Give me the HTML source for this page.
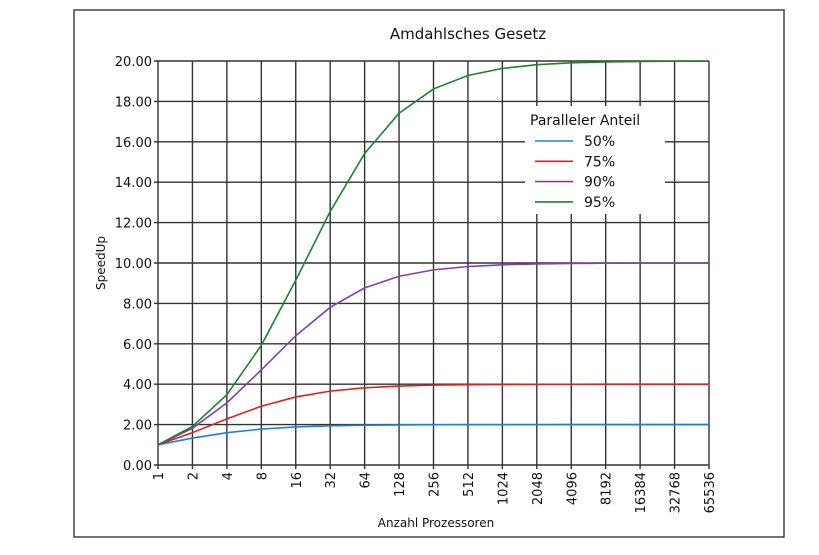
<!DOCTYPE html>
<html><head><meta charset="utf-8"><style>
body{margin:0;background:#fff;width:819px;height:555px;overflow:hidden}
svg{display:block;font-family:"DejaVu Sans","Liberation Sans",sans-serif}
</style></head><body>
<svg id="chart" width="819" height="555">
<rect x="74" y="10" width="710" height="527" fill="#fff" stroke="#444" stroke-width="1.5"/>
<g id="grid"></g><g id="series"></g><g id="ticks"></g>
<text x="468" y="39" text-anchor="middle" font-size="15" fill="#111">Amdahlsches Gesetz</text>
<text transform="translate(105,263) rotate(-90)" text-anchor="middle" font-size="12" fill="#111">SpeedUp</text>
<text x="436" y="527" text-anchor="middle" font-size="12" fill="#111">Anzahl Prozessoren</text>
<g id="legend"></g>
</svg>
<script>
const categories=["1","2","4","8","16","32","64","128","256","512","1024","2048","4096","8192","16384","32768","65536"];
const yTicks=[0,2,4,6,8,10,12,14,16,18,20];
const seriesNames=["50%","75%","90%","95%"];
const seriesColors=["#1f7fe0","#e02020","#8040b0","#208030"];
const s50=[1,1.333,1.6,1.778,1.882,1.939,1.969,1.984,1.992,1.996,1.998,1.999,2.0,2.0,2.0,2.0,2.0];
const s75=[1,1.6,2.286,2.909,3.368,3.657,3.821,3.908,3.954,3.977,3.988,3.994,3.997,3.999,3.999,4.0,4.0];
const s90=[1,1.818,3.077,4.706,6.4,7.805,8.767,9.343,9.66,9.826,9.912,9.956,9.978,9.989,9.995,9.997,9.999];
const s95=[1,1.905,3.478,5.926,9.143,12.549,15.422,17.414,18.618,19.284,19.635,19.816,19.908,19.954,19.977,19.988,19.994];
const allSeries=[s50,s75,s90,s95];
const X0=158,X1=709,Y0=465,Y1=61;
const xs=i=>X0+(X1-X0)*i/(categories.length-1);
const ys=v=>Y0-(Y0-Y1)*v/20;
const NS="http://www.w3.org/2000/svg";
function mk(tag,attrs,parent){const e=document.createElementNS(NS,tag);for(const k in attrs)e.setAttribute(k,attrs[k]);parent.appendChild(e);return e;}
const grid=document.getElementById('grid'),ticks=document.getElementById('ticks'),ser=document.getElementById('series'),leg=document.getElementById('legend');
yTicks.forEach(v=>{
 const l=mk('line',{x1:X0-4,x2:X1,y1:ys(v),y2:ys(v),stroke:'#333','stroke-width':1.4},grid);
 
 
 const t=mk('text',{x:X0-6,y:ys(v)+5,'text-anchor':'end','font-size':13,fill:'#111'},ticks);
 t.textContent=v.toFixed(2);
 
 
});
categories.forEach((c,i)=>{
 const l=mk('line',{x1:xs(i),x2:xs(i),y1:Y1,y2:Y0+4,stroke:'#333','stroke-width':1.4},grid);
 
 
 const t=mk('text',{transform:`translate(${xs(i)+5},${Y0+7}) rotate(-90)`,'text-anchor':'end','font-size':13,fill:'#111'},ticks);
 t.textContent=c;
 
 
});
allSeries.forEach((d,k)=>{
 const p=mk('polyline',{points:d.map((v,i)=>xs(i)+','+ys(v)).join(' '),fill:'none',stroke:seriesColors[k],'stroke-width':1.6},ser);
 
 
});
mk('rect',{x:525,y:106,width:140,height:108,fill:'#fff'},leg);
const lt=mk('text',{x:530,y:125,'font-size':14,fill:'#111'},leg);
lt.textContent='Paralleler Anteil';


seriesNames.forEach((n,k)=>{
 const y=141+k*20.3;
 const l=mk('line',{x1:535,x2:573,y1:y,y2:y,stroke:seriesColors[k],'stroke-width':1.6},leg);
 
 
 const t=mk('text',{x:584,y:y+5,'font-size':14,fill:'#111'},leg);
 t.textContent=n;
 
 
});
</script>
</body></html>
